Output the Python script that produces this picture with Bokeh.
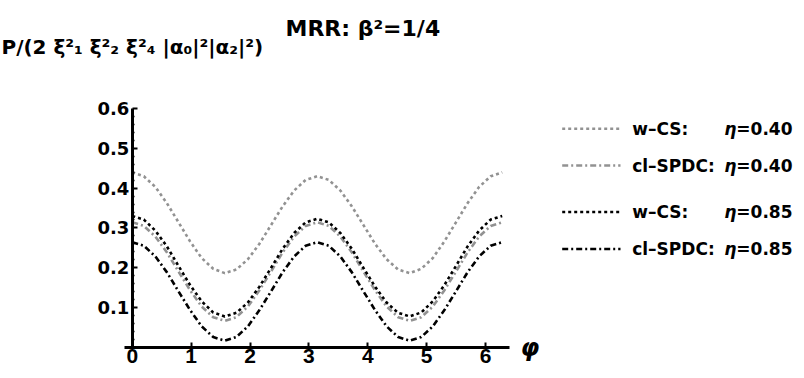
from bokeh.plotting import figure
from bokeh.models import Range1d, FixedTicker
from bokeh.core.properties import value
from bokeh.embed import file_html
from bokeh.resources import INLINE

# ---------------- data ----------------
phi = [0.0, 0.1963, 0.3927, 0.5890, 0.7854, 0.9817, 1.1781, 1.3744, 1.5708,
       1.7671, 1.9635, 2.1598, 2.3562, 2.5525, 2.7489, 2.9452, 3.1416,
       3.3379, 3.5343, 3.7306, 3.9270, 4.1233, 4.3197, 4.5160, 4.7124,
       4.9087, 5.1051, 5.3014, 5.4978, 5.6941, 5.8905, 6.0868, 6.2832]

wcs_040 = [0.440, 0.430, 0.403, 0.362, 0.314, 0.266, 0.224, 0.197, 0.186,
           0.195, 0.221, 0.260, 0.307, 0.354, 0.394, 0.421, 0.430,
           0.421, 0.394, 0.354, 0.307, 0.260, 0.221, 0.195, 0.186,
           0.197, 0.224, 0.266, 0.314, 0.362, 0.403, 0.430, 0.440]

spdc_040 = [0.314, 0.305, 0.278, 0.238, 0.190, 0.143, 0.102, 0.075, 0.066,
            0.075, 0.102, 0.143, 0.190, 0.238, 0.278, 0.305, 0.314,
            0.305, 0.278, 0.238, 0.190, 0.143, 0.102, 0.075, 0.066,
            0.075, 0.102, 0.143, 0.190, 0.238, 0.278, 0.305, 0.314]

wcs_085 = [0.330, 0.321, 0.293, 0.253, 0.204, 0.156, 0.115, 0.087, 0.077,
           0.086, 0.112, 0.152, 0.199, 0.247, 0.287, 0.314, 0.323,
           0.314, 0.287, 0.247, 0.199, 0.152, 0.112, 0.086, 0.077,
           0.087, 0.115, 0.156, 0.204, 0.253, 0.293, 0.321, 0.330]

spdc_085 = [0.264, 0.255, 0.228, 0.188, 0.140, 0.093, 0.052, 0.025, 0.016,
            0.025, 0.052, 0.093, 0.140, 0.188, 0.228, 0.255, 0.264,
            0.255, 0.228, 0.188, 0.140, 0.093, 0.052, 0.025, 0.016,
            0.025, 0.052, 0.093, 0.140, 0.188, 0.228, 0.255, 0.264]

series_names = ["w\u2013CS:", "cl\u2013SPDC:", "w\u2013CS:", "cl\u2013SPDC:"]
eta_texts = ["=0.40", "=0.40", "=0.85", "=0.85"]
x_ticks = [0, 1, 2, 3, 4, 5, 6]
y_ticks = [0.1, 0.2, 0.3, 0.4, 0.5, 0.6]
title_text = "MRR: \u03b2\u00b2=1/4"
ylabel_text = "P/(2 \u03be\u00b2\u2081 \u03be\u00b2\u2082 \u03be\u00b2\u2084 |\u03b1\u2080|\u00b2|\u03b1\u2082|\u00b2)"
xlabel_text = "\u03c6"

# ---------------- styles ----------------
GRAY = "#929292"
styles = [
    dict(color=GRAY, dash="3 3"),
    dict(color=GRAY, dash="6 3 2 3"),
    dict(color="black", dash="3 3"),
    dict(color="black", dash="6 3 2 3"),
]
series = [wcs_040, spdc_040, wcs_085, spdc_085]

# ---------------- layout (page has no margin: canvas px == page px) ----------------
W, H = 804, 378
X0_PX, X_SCALE = 131.8, 58.87     # canvas px of phi=0, px per unit
Y0_PX, Y_SCALE = 346.5, 397.0     # canvas px of y=0, px per unit

p = figure(width=W, height=H, output_backend="svg", toolbar_location=None,
           x_range=Range1d(-X0_PX / X_SCALE, (W - X0_PX) / X_SCALE),
           y_range=Range1d(-(H - Y0_PX) / Y_SCALE, Y0_PX / Y_SCALE),
           min_border=0)
p.outline_line_color = None
p.grid.visible = False
p.background_fill_color = "white"
p.border_fill_color = "white"
p.extra_x_ranges = {"px": Range1d(0, W)}
p.extra_y_ranges = {"py": Range1d(H, 0)}

# axes crossing at the origin
for ax in (p.xaxis[0], p.yaxis[0]):
    ax.fixed_location = 0
    ax.axis_line_width = 3
    ax.axis_line_color = "black"
    ax.major_tick_in = 5
    ax.major_tick_out = 0
    ax.major_tick_line_width = 2
    ax.minor_tick_out = 0
    ax.major_label_text_font_style = "bold"
    ax.major_label_text_color = "black"

xa = p.xaxis[0]
xa.bounds = (-0.126, 6.41)
xa.ticker = FixedTicker(ticks=x_ticks)
xa.major_label_text_font = "Liberation Sans"
xa.major_label_text_font_size = "21px"
xa.major_label_standoff = 2
xa.minor_tick_in = 0

ya = p.yaxis[0]
ya.bounds = (0, 0.6)
ya.ticker = FixedTicker(ticks=y_ticks,
                        minor_ticks=[round(0.02 * i, 2) for i in range(1, 30) if i % 5])
ya.major_label_text_font = "DejaVu Sans"
ya.major_label_text_font_size = "18px"
ya.major_label_standoff = 3
ya.minor_tick_in = 2
ya.minor_tick_line_width = 1.5

# curves
for ys, st in zip(series, styles):
    p.line(phi, ys, line_color=st["color"], line_dash=st["dash"],
           line_width=2.6, line_cap="butt")

# legend
LEG_X0, LEG_X1 = 561.7, 620.0
LEG_NAME_X, LEG_VAL_X = 631.7, 792.0
LEG_FONT = 17
ETA_W = 3.306 * LEG_FONT
rows_y = [128.3, 165.0, 211.5, 248.5]
for ry, st in zip(rows_y, styles):
    p.line([LEG_X0, LEG_X1], [ry, ry], x_range_name="px", y_range_name="py",
           line_color=st["color"], line_dash=st["dash"], line_width=2.6)

common = dict(x_range_name="px", y_range_name="py", text_color="black",
              text_font=value("DejaVu Sans"), text_baseline="middle",
              text_font_size=f"{LEG_FONT}px")
p.text(x=[LEG_NAME_X] * 4, y=rows_y, text=series_names, text_align="left",
       text_font_style="bold", **common)
p.text(x=[LEG_VAL_X] * 4, y=rows_y, text=eta_texts, text_align="right",
       text_font_style="bold", **common)
p.text(x=[LEG_VAL_X - ETA_W] * 4, y=rows_y, text=["\u03b7"] * 4, text_align="right",
       text_font_style="bold italic", **common)

# title, y label, x label
p.text(x=[285], y=[28], text=[title_text], text_align="left", x_range_name="px",
       y_range_name="py", text_font=value("DejaVu Sans"), text_font_style="bold",
       text_font_size="22px", text_baseline="alphabetic", text_color="black")
p.text(x=[1], y=[46], text=[ylabel_text], text_align="left", x_range_name="px",
       y_range_name="py", text_font=value("DejaVu Sans"), text_font_style="bold",
       text_font_size="20px", text_baseline="alphabetic", text_color="black")
p.text(x=[520], y=[347], text=[xlabel_text], text_align="left", x_range_name="px",
       y_range_name="py", text_font=value("DejaVu Sans"), text_font_style="bold italic",
       text_font_size="24px", text_baseline="middle", text_color="black")

open("out.html", "w").write(file_html(p, INLINE))
